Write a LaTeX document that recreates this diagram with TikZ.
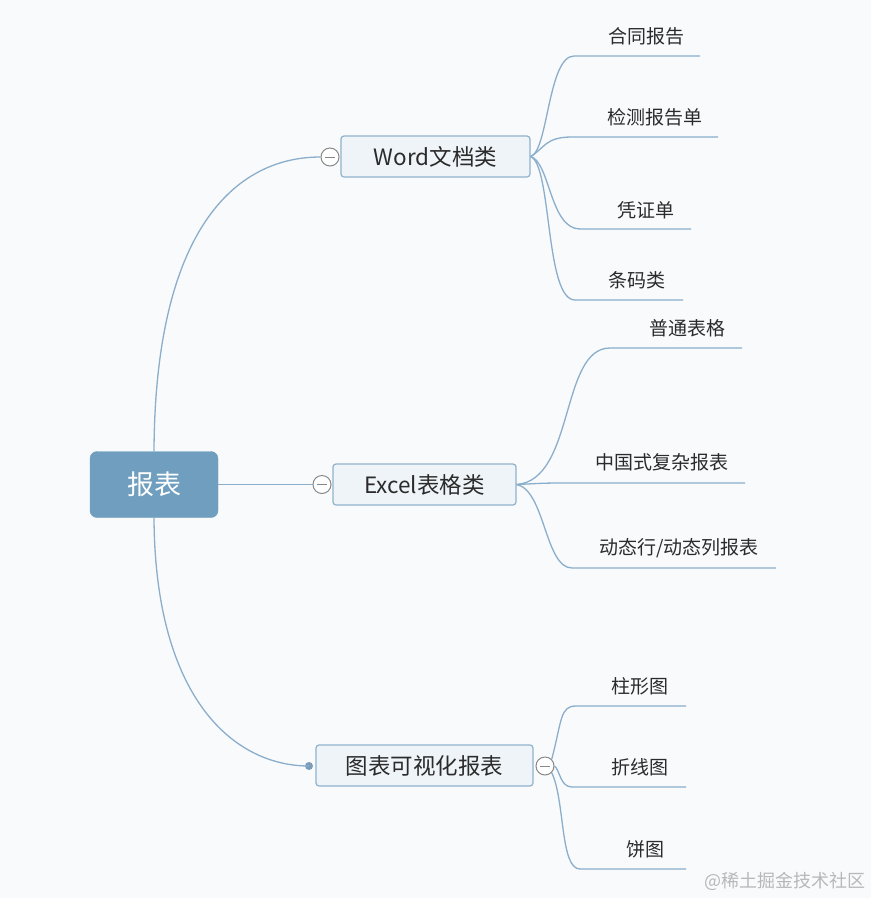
\documentclass[tikz,border=0pt]{standalone}
\usepackage{fontspec}
\setmainfont{Noto Sans CJK SC}
\newfontfamily\cjk{Noto Sans CJK SC}
\definecolor{bg}{HTML}{F9FAFB}
\definecolor{edge}{HTML}{8AAECB}
\definecolor{rootfill}{HTML}{6F9EBF}
\definecolor{boxfill}{HTML}{EFF4F8}
\definecolor{boxline}{HTML}{8FB2CD}
\definecolor{txt}{HTML}{2B2B2B}
\definecolor{wm}{HTML}{B8B8B8}
\definecolor{togg}{HTML}{888888}
\tikzset{
  rootbox/.style={draw=rootfill, fill=rootfill, rounded corners=7pt, minimum width=128pt, minimum height=66pt, text=white, font=\cjk\fontsize{27}{30}\selectfont, inner sep=0pt},
  catbox/.style={draw=boxline, line width=1.2pt, fill=boxfill, rounded corners=3pt, minimum height=41pt, text=txt, font=\cjk\fontsize{22.5}{26}\selectfont, inner sep=0pt},
  leaf/.style={text=txt, font=\cjk\fontsize{19}{22}\selectfont, inner sep=0pt},
  conn/.style={draw=edge, line width=1.3pt},
  toggle/.style={circle, draw=togg, fill=white, line width=1pt, minimum size=18pt, inner sep=0pt},
  dotpt/.style={circle, fill=edge!90!black, minimum size=8pt, inner sep=0pt},
}
\begin{document}
\begin{tikzpicture}[x=1pt,y=-1pt]
\fill[bg] (0,0) rectangle (871,898);
\useasboundingbox (0,0) rectangle (871,898);

% root
\node[rootbox] (root) at (154,484.5) {报表};

% categories
\node[catbox, minimum width=189pt] (word) at (435.5,156.5) {Word文档类};
\node[catbox, minimum width=183pt] (excel) at (424.5,484.5) {Excel表格类};
\node[catbox, minimum width=217pt] (chart) at (424.5,765.5) {图表可视化报表};

% toggles
\node[toggle] (tw) at (330,157) {};
\node[toggle] (te) at (322,484.5) {};
\node[toggle] (tc) at (545,766) {};
\node[dotpt] (dc) at (309,766) {};
\foreach \n in {tw,te,tc} \draw[togg, line width=1pt] ([xshift=-5pt]\n.center) -- ([xshift=5pt]\n.center);

% root connectors
\draw[conn] (root.north) .. controls (155,230) and (235,157) .. (tw.west);
\draw[conn] (root.east) -- (te.west);
\draw[conn] (root.south) .. controls (155,700) and (235,766) .. (dc.center);

% Word children
\coordinate (w0) at (word.east);
\coordinate (a1) at (574,56);  \coordinate (a2) at (700,56);
\coordinate (b1) at (572,137); \coordinate (b2) at (718,137);
\coordinate (c1) at (580,229); \coordinate (c2) at (691,229);
\coordinate (d1) at (575,300); \coordinate (d2) at (683,300);
\node[leaf] (la) at (646,36) {合同报告};
\node[leaf] (lb) at (655,117) {检测报告单};
\node[leaf] (lc) at (646,210) {凭证单};
\node[leaf] (ld) at (637,280) {条码类};
\draw[conn] (w0) .. controls (548,152) and (548,56) .. (a1) -- (a2);
\draw[conn] (w0) .. controls (545,148) and (545,137) .. (b1) -- (b2);
\draw[conn] (w0) .. controls (550,162) and (550,229) .. (c1) -- (c2);
\draw[conn] (w0) .. controls (552,165) and (545,300) .. (d1) -- (d2);

% Excel children
\coordinate (e0) at (excel.east);
\coordinate (f1) at (610,348); \coordinate (f2) at (742,348);
\coordinate (g1) at (560,483); \coordinate (g2) at (745,483);
\coordinate (h1) at (572,568); \coordinate (h2) at (776,568);
\node[leaf] (lf) at (687,328) {普通表格};
\node[leaf] (lg) at (662,462) {中国式复杂报表};
\node[leaf] (lh) at (679,548) {动态行/动态列报表};
\draw[conn] (e0) .. controls (575,480) and (560,348) .. (f1) -- (f2);
\draw[conn] (e0) .. controls (530,484) and (540,483) .. (g1) -- (g2);
\draw[conn] (e0) .. controls (545,490) and (545,568) .. (h1) -- (h2);

% Chart children
\coordinate (c0) at (tc.east);
\coordinate (i1) at (576,706); \coordinate (i2) at (686,706);
\coordinate (j1) at (572,787); \coordinate (j2) at (686,787);
\coordinate (k1) at (580,869); \coordinate (k2) at (686,869);
\node[leaf] (li) at (640,686) {柱形图};
\node[leaf] (lj) at (640,767) {折线图};
\node[leaf] (lk) at (645,849) {饼图};
\draw[conn] (tc.north east) .. controls (562,720) and (560,706) .. (i1) -- (i2);
\draw[conn] (c0) .. controls (560,770) and (560,787) .. (j1) -- (j2);
\draw[conn] (tc.south east) .. controls (565,800) and (560,869) .. (k1) -- (k2);

% watermark
\node[text=wm, font=\cjk\fontsize{18}{21}\selectfont, inner sep=0pt] (wmk) at (785,881) {@稀土掘金技术社区};
\end{tikzpicture}
\end{document}
